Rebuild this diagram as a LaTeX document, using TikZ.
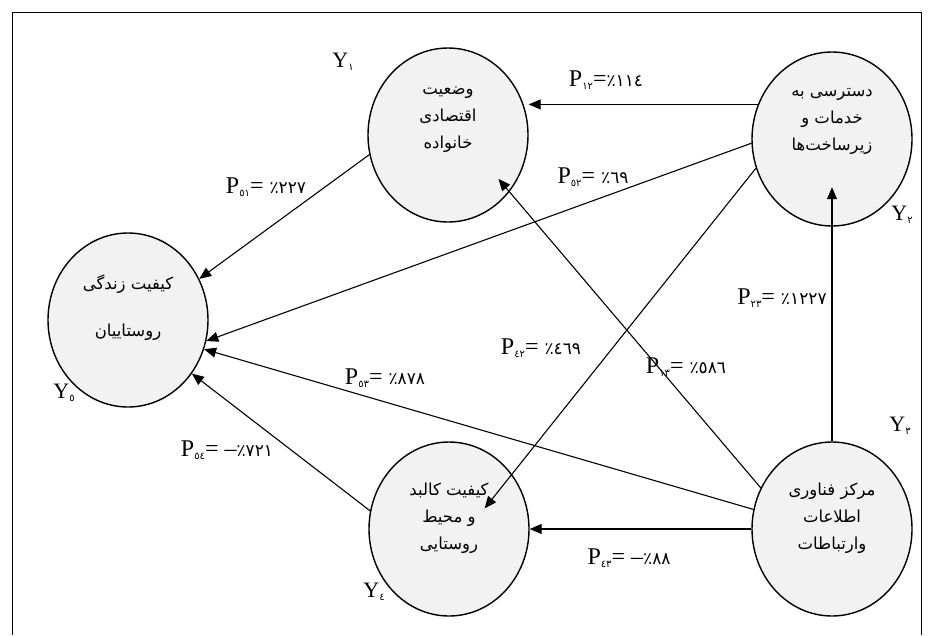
\documentclass[tikz,border=0pt]{standalone}
\usepackage{fontspec}
\setmainfont{Liberation Serif}
\newfontfamily\arabicfont[Script=Arabic]{DejaVu Sans}
\TeXXeTstate=1
\usetikzlibrary{shapes.geometric,arrows.meta,calc}
\definecolor{bubble}{HTML}{F2F2F2}
\newcommand{\rl}[1]{\beginR #1\endR}
\newcommand{\sub}[1]{\raisebox{-3pt}{\fontsize{10}{10}\selectfont\arabicfont #1}}
\newcommand{\coef}[3]{P\sub{#1}#2{\fontsize{17}{17}\selectfont\arabicfont\hbox{٪}\hbox{#3}}}
\tikzset{%
varnode/.style={ellipse,draw,line width=1.4pt,fill=bubble,minimum width=160pt,
                 minimum height=174pt,inner sep=0pt},
vartext/.style={align=center,inner sep=0pt,font=\fontsize{16.5}{27}\selectfont\arabicfont},
effect/.style={-{Triangle[length=12pt,width=10pt]},line width=1.1pt},
coeff/.style={font=\fontsize{24}{24}\selectfont,inner sep=0pt},
yname/.style={font=\fontsize{22}{22}\selectfont,inner sep=0pt},
}

\begin{document}
\begin{tikzpicture}[x=1pt,y=-1pt]
\useasboundingbox (0,0) rectangle (936,635);
\draw[line width=0.8pt] (12,635) -- (12,12) -- (921,12) -- (921,635);

\node[varnode] (econ) at (448,135) {};
\node[varnode] (access) at (832,139) {};
\node[varnode] (life) at (128,320) {};
\node[varnode] (env) at (449,529) {};
\node[varnode] (ict) at (832,529) {};

\node[vartext] (econtxt) at ([yshift=15pt]econ) {\rl{وضعیت}\\\rl{اقتصادی}\\\rl{خانواده}};
\node[vartext] (accesstxt) at ([yshift=18pt]access) {\rl{دسترسی به}\\\rl{خدمات و}\\\rl{زیرساخت‌ها}};
\node[vartext,font=\fontsize{16.5}{47}\selectfont\arabicfont] (lifetxt) at ([yshift=12pt]life)
     {\rl{کیفیت زندگی}\\\rl{روستاییان}};
\node[vartext] (envtxt) at ([yshift=11pt]env) {\rl{کیفیت کالبد}\\\rl{و محیط}\\\rl{روستایی}};
\node[vartext] (icttxt) at ([yshift=11pt]ict) {\rl{مرکز فناوری}\\\rl{اطلاعات}\\\rl{وارتباطات}};

\node[yname] (y1) at (343,62) {Y\sub{١}};
\node[yname] (y2) at (902,215) {Y\sub{٢}};
\node[yname] (y3) at (900,426) {Y\sub{٣}};
\node[yname] (y4) at (374,592) {Y\sub{٤}};
\node[yname] (y5) at (64,393) {Y\sub{٥}};

\draw[effect] (access.155) -- (access.155 -| econ.east);
\draw[effect] (econ.194) -- (life.30);
\draw[effect] (access.183) -- (life.345);
\draw[effect] (access.201) -- ($(env.center)!0.5!(env.30)$);
\draw[effect] (ict.150) -- ($(econ.center)!0.8!(econ.319)$);
\draw[effect] (ict.166) -- (life.339);
\draw[effect] (ict.west) -- (env.east);
\draw[effect] (env.167) -- (life.320);
\draw[effect] (ict.north) -- ($(access.center)!0.55!(access.south)$);

\node[coeff] (p12) at (606,80) {\coef{١٢}{=}{١١٤}};
\node[coeff] (p51) at (266,187) {\coef{٥١}{= }{٢٢٧}};
\node[coeff] (p52) at (593,177) {\coef{٥٢}{= }{٦٩}};
\node[coeff] (p23) at (782,298) {\coef{٢٣}{= }{١٢٢٧}};
\node[coeff] (p42) at (541,348) {\coef{٤٢}{= }{٤٦٩}};
\node[coeff] (p13) at (686,367) {\coef{١٣}{= }{٥٨٦}};
\node[coeff] (p53) at (385,378) {\coef{٥٣}{= }{٨٧٨}};
\node[coeff] (p54) at (227,450) {\coef{٥٤}{= –}{٧٢١}};
\node[coeff] (p43) at (629,558) {\coef{٤٣}{= –}{٨٨}};
\end{tikzpicture}
\end{document}
